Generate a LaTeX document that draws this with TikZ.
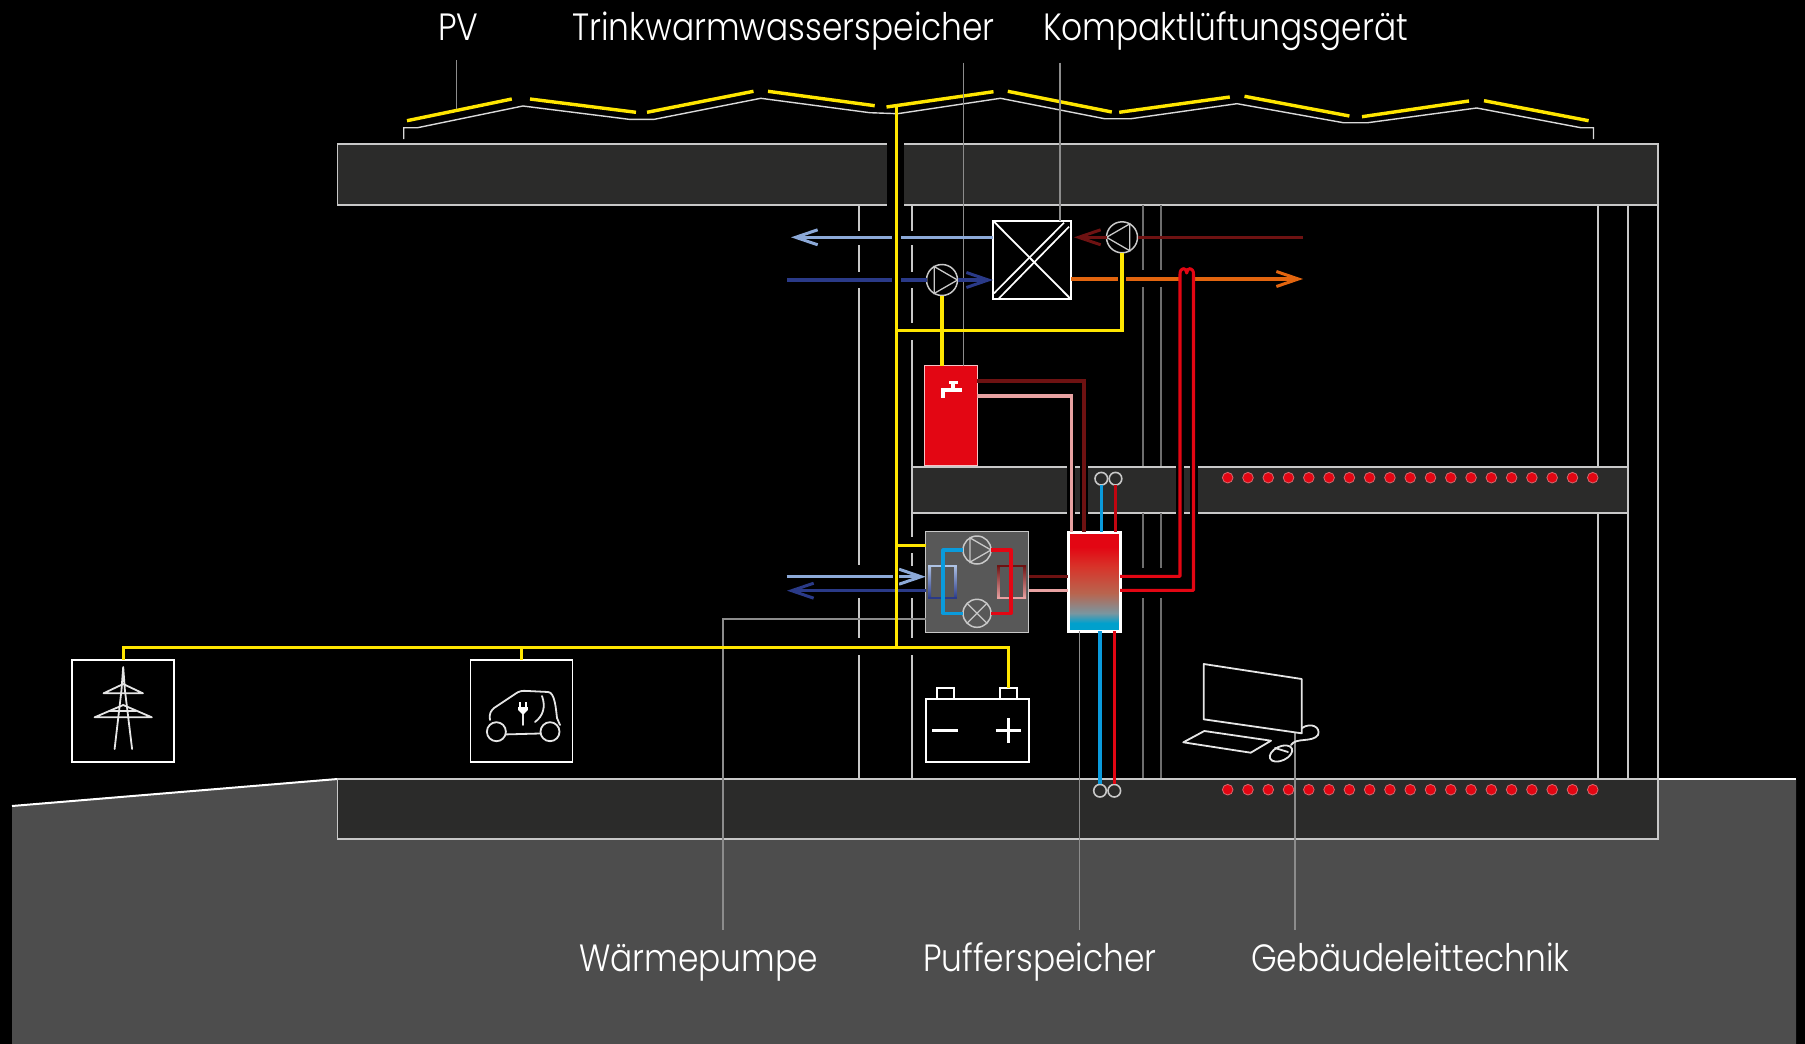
\documentclass[tikz,border=0pt]{standalone}
\usepackage{fontspec}
\setmainfont{Poppins}[UprightFont=* Light,FakeStretch=0.865]
\usetikzlibrary{arrows.meta}

\definecolor{linegray}{HTML}{C8C8C8}
\definecolor{thingray}{HTML}{8C8C8C}
\definecolor{dimgray}{HTML}{6E6E6E}
\definecolor{slabdark}{HTML}{2B2B2A}
\definecolor{groundgray}{HTML}{4D4D4D}
\definecolor{boxgray}{HTML}{585858}
\definecolor{solaryellow}{HTML}{FFE600}
\definecolor{hotred}{HTML}{E30613}
\definecolor{darkred}{HTML}{6E1212}
\definecolor{rosepipe}{HTML}{E8A2A2}
\definecolor{coolblue}{HTML}{0A9BDC}
\definecolor{airlight}{HTML}{8CA9D8}
\definecolor{airdark}{HTML}{2A3A88}
\definecolor{airorange}{HTML}{E2650F}
\definecolor{bufferlow}{HTML}{00A0CC}
\definecolor{buffergray}{HTML}{7A96A0}
\definecolor{buffermud}{HTML}{B8654F}
\definecolor{bufferwarm}{HTML}{D8342A}

\pgfdeclareverticalshading{bufferfill}{100bp}{color(0bp)=(bufferlow); color(29bp)=(bufferlow);
  color(34bp)=(buffergray); color(44bp)=(buffermud);
  color(57.5bp)=(bufferwarm); color(67.5bp)=(hotred); color(100bp)=(hotred)}

\begin{document}
\begin{tikzpicture}[x=1pt,y=-1pt,
  labeltext/.style={anchor=base west,inner sep=0pt,text=white,font=\fontsize{38}{46}\selectfont},
  wall/.style={linegray,line width=1.7pt},
  dimwall/.style={dimgray,line width=1.7pt},
  leader/.style={thingray,line width=1.2pt},
  slab/.style={fill=slabdark,draw=linegray,line width=1.7pt},
  box/.style={draw=white,line width=1.8pt,inner sep=0pt,outer sep=0pt,rectangle},
  iconline/.style={white!90!black,line width=1.8pt,line join=round,line cap=round},
  pumpring/.style={circle,draw=linegray,fill=black,line width=1.5pt,inner sep=0pt,outer sep=0pt,minimum size=31pt},
  hpring/.style={pumpring,fill=boxgray,minimum size=28pt},
  pipering/.style={circle,draw=linegray,line width=1.6pt,inner sep=0pt,outer sep=0pt,minimum size=12.6pt},
  reddot/.style={circle,fill=hotred,draw=hotred!50!linegray,line width=.8pt,inner sep=0pt,minimum size=10.6pt},
  panel/.style={solaryellow,line width=3.4pt},
  power/.style={solaryellow,line width=3.1pt},
  pipe/.style={line width=3.05pt},
  airtip/.style={-{Straight Barb[length=22pt,width=15pt,line width=3pt]}}]

\useasboundingbox (0,0) rectangle (1805,1044);
\fill[black] (0,0) rectangle (1805,1044);

\fill[groundgray] (12,806) -- (337.5,779) -- (1796,779) -- (1796,1044) -- (12,1044) -- cycle;
\draw[white,line width=2pt] (12,806) -- (337.5,779);
\draw[white,line width=2pt] (1658,779) -- (1796,779);
\draw[slab] (337.5,144) rectangle (1658,205);
\draw[slab] (337.5,779) rectangle (1658,838.7);
\draw[slab] (912.3,466.7) rectangle (1628,512.7);
\fill[black] (887.3,143) rectangle (903.7,206);
\foreach \x in {1071.3,1084,1180,1193.5}
  \fill[black] (\x-4,465) rectangle (\x+4,514);

\draw[white!85!black,line width=1.4pt] (403.7,139) -- (403.7,127.7) -- (417.6,127.7) -- (522.9,106) -- (629,119.3) -- (654.3,119.3) -- (760.8,98.3) -- (869.8,112.7) -- (897.6,113.7) -- (1000.4,98.3) -- (1104.5,118.7) -- (1131,118.7) -- (1237,103.7) -- (1343.3,122.7) -- (1367.8,122.7) -- (1476.7,108) -- (1580.8,127.7) -- (1593.5,127.7) -- (1593.5,139);
\draw[panel] (407,120.7) -- (511.8,99);
\draw[panel] (530,99) -- (636,112.3);
\draw[panel] (647,112.3) -- (753.5,91.3);
\draw[panel] (768,91.3) -- (874.7,105.7);
\draw[panel] (886.5,107) -- (993.5,91.7);
\draw[panel] (1007.8,91.3) -- (1111.8,112);
\draw[panel] (1119.2,112.3) -- (1229.8,97);
\draw[panel] (1244.5,96.3) -- (1349.4,116);
\draw[panel] (1362,116.7) -- (1469,101);
\draw[panel] (1484,100.7) -- (1588.6,120.7);

\foreach \a/\b in {205/231,245/272,288/565,598/638,655/778}
  \draw[wall] (858.7,\a) -- (858.7,\b);
\foreach \a/\b in {205/231,245/272,288/323,340/466,513/537,553/566,598/638,655/778}
  \draw[wall] (912.3,\a) -- (912.3,\b);
\foreach \a/\b in {205/270,287/466,513/568,598/778} {
  \draw[dimwall] (1143.3,\a) -- (1143.3,\b);
  \draw[dimwall] (1161,\a) -- (1161,\b);
}
\foreach \x in {1597.7,1628}
  \draw[wall] (\x,205) -- (\x,466) (\x,513) -- (\x,778);
\draw[wall] (1658,205) -- (1658,779);

\node[labeltext] (pvlabel) at (438,40) {PV};
\node[labeltext] (dhwlabel) at (572,40) {Trinkwarmwasserspeicher};
\node[labeltext] (ventlabel) at (1043,40) {Kompaktlüftungsgerät};
\node[labeltext] (hplabel) at (579,971) {Wärmepumpe};
\node[labeltext] (bufferlabel) at (923,971) {Pufferspeicher};
\node[labeltext] (controllabel) at (1251,971) {Gebäudeleittechnik};

\node[box,fill=hotred,draw=hotred!25!white,line width=1.5pt,minimum width=52.6pt,minimum height=100pt] (tank) at (951,415.5) {};
\node[box,fill=boxgray,draw=linegray,line width=1.5pt,minimum width=103pt,minimum height=100.6pt] (heatpump) at (977.2,582) {};
\node[box,shading=bufferfill,line width=3pt,minimum width=52pt,minimum height=99pt] (buffer) at (1094,581.5) {};
\node[box,fill=black,line width=2.2pt,minimum width=78pt,minimum height=78.6pt] (vent) at (1032,260) {};
\node[box,line width=1.8pt,minimum width=102pt,minimum height=102pt] (grid) at (123.1,710.8) {};
\node[box,line width=1.8pt,minimum width=102pt,minimum height=102pt] (car) at (521.5,710.8) {};
\node[box,line width=1.8pt,minimum width=103pt,minimum height=62.4pt] (battery) at (977.2,730.5) {};
\node[box,line width=1.8pt,minimum width=17.3pt,minimum height=11pt] (batminus) at (945.3,693.7) {};
\node[box,line width=1.8pt,minimum width=17.3pt,minimum height=11pt] (batplus) at (1008.7,693.7) {};

\coordinate (exhaustend) at (791,237.3);
\coordinate (intakestart) at (787,280);
\coordinate (returnstart) at (1303,237.3);
\coordinate (supplyend) at (1303,279);
\coordinate (sourcestart) at (786.7,576.7);
\coordinate (sourceend) at (787,590.7);
\coordinate (pvfeed) at (896.3,107);
\coordinate (bus) at (896.3,647.3);
\coordinate (ventjoint) at (896.3,330.7);
\coordinate (hpjoint) at (896.3,545.3);

\draw[leader] (456.3,60) -- (456.3,109);
\draw[leader] (963.6,62.7) -- (tank.north -| 963.6,0);
\draw[leader] (1060,62.7) -- (vent.north -| 1060,0);
\draw[leader] (heatpump.west |- 0,619) -- (723,619) -- (723,930);
\draw[leader] (buffer.south -| 1079.3,0) -- (1079.3,930);
\draw[leader] (1295,733) -- (1295,930);

\node[pumpring] (pumpin) at (942,280) {};
\node[pumpring] (pumpout) at (1122,237.3) {};
\draw[linegray,line width=1.3pt] (pumpin.0) -- (pumpin.120) -- (pumpin.240) -- cycle;
\draw[linegray,line width=1.3pt] (pumpout.180) -- (pumpout.60) -- (pumpout.-60) -- cycle;

\draw[white,line width=1.8pt] (vent.north west) -- (vent.south east);
\draw[white,line width=1.7pt] ([shift={(1,-6)}]vent.south west) -- ([shift={(-7,2)}]vent.north east);
\draw[white,line width=1.7pt] ([shift={(6,-1)}]vent.south west) -- ([shift={(-2,6)}]vent.north east);

\draw[airlight,pipe,airtip] (vent.west |- exhaustend) -- (exhaustend);
\draw[airdark,line width=4.5pt] (intakestart) -- (pumpin.west);
\draw[airdark,pipe,airtip] (pumpin.east) -- (vent.west |- pumpin.east);
\draw[darkred,pipe] (returnstart) -- (pumpout.east);
\draw[darkred,pipe,airtip,shorten >=3pt] (pumpout.west) -- (vent.east |- pumpout.west);
\draw[airorange,pipe] (vent.east |- supplyend) -- (1117.7,279);
\draw[airorange,pipe] (1126.3,279) -- (1179,279);
\draw[airorange,pipe,airtip] (1195,279) -- (supplyend);
\draw[airlight,pipe,airtip] (sourcestart) -- (heatpump.west |- sourcestart);
\draw[airdark,pipe,airtip] (heatpump.west |- sourceend) -- (sourceend);

\draw[black,line width=9pt] (896.3,230) -- (896.3,246) (896.3,271) -- (896.3,289);
\draw[black,line width=6pt] (896.3,570) -- (896.3,584);
\draw[power] (pvfeed) -- (bus);
\draw[power] (grid.north) |- (bus) -| (batplus.north);
\draw[power] (car.north) -- (car.north |- bus);
\draw[power] (ventjoint) -| (pumpout.south);
\draw[power] (pumpin.south) -- (pumpin.south |- tank.north);
\draw[power] (hpjoint) -- (heatpump.west |- hpjoint);

\draw[darkred,pipe] (tank.east |- 0,381) -- (1084,381) -- (buffer.north -| 1084,0);
\draw[rosepipe,pipe] (tank.east |- 0,396) -- (1071.3,396) -- (buffer.north -| 1071.3,0);
\draw[darkred,pipe] (heatpump.east |- 0,576.7) -- (buffer.west |- 0,576.7);
\draw[rosepipe,pipe] (heatpump.east |- 0,590.3) -- (buffer.west |- 0,590.3);
\draw[hotred,pipe,line join=round] (buffer.east |- 0,576.3) -- (1180,576.3) -- (1180,274) .. controls (1180,267) and (1186.7,267) .. (1186.7,273) .. controls (1186.7,267) and (1193.5,267) .. (1193.5,274) -- (1193.5,590.3) -- (buffer.east |- 0,590.3);

\node[pipering] (ringflow) at (1101.3,478.7) {};
\node[pipering] (ringback) at (1115.5,478.7) {};
\node[pipering] (ringlow) at (1100,790.7) {};
\node[pipering] (ringhigh) at (1114.3,790.7) {};
\draw[coolblue,pipe] (ringflow.south) -- (ringflow.south |- buffer.north);
\draw[hotred!85!black,pipe] (ringback.south) -- (ringback.south |- buffer.north);
\draw[coolblue,pipe] (buffer.south -| ringlow.north) -- (ringlow.north);
\draw[hotred,pipe] (buffer.south -| ringhigh.north) -- (ringhigh.north);

\shade[top color=airlight!70!white,bottom color=airdark] (928.3,565) rectangle (931,598.6);
\shade[top color=airlight!70!white,bottom color=airdark] (954.1,565) rectangle (956.8,598.6);
\fill[airlight!70!white] (928.3,564.5) rectangle (956.8,567);
\fill[airdark] (928.3,597) rectangle (956.8,599.3);
\shade[top color=darkred,bottom color=rosepipe] (997,565) rectangle (999.7,598.6);
\shade[top color=darkred,bottom color=rosepipe] (1023.3,565) rectangle (1026,598.6);
\fill[darkred] (997,564.5) rectangle (1026,567);
\fill[rosepipe] (997,597) rectangle (1026,599.3);

\node[hpring] (hppump) at (977,550) {};
\node[hpring] (hpvalve) at (977,613.3) {};
\draw[linegray,line width=1.3pt] (hppump.0) -- (hppump.120) -- (hppump.240) -- cycle;
\draw[linegray,line width=1.3pt] (hpvalve.45) -- (hpvalve.225) (hpvalve.135) -- (hpvalve.315);
\draw[coolblue,pipe,line join=round] (hppump.west) -- ++(-20,0) |- (hpvalve.west);
\draw[hotred,pipe,line join=round] (hppump.east) -- ++(20,0) |- (hpvalve.east);

\foreach \n in {0,...,18} {
  \node[reddot] (middot\n) at ({1227.7+20.28*\n},477.7) {};
  \node[reddot] (lowdot\n) at ({1227.7+20.28*\n},789.7) {};
}

\draw[white,line width=3.5pt] (949,382.3) -- (957.5,382.3) (953.2,382.3) -- (953.2,390) (961.8,390) -- (941.2,390) (942.9,390) -- (942.9,398.3);

\draw[white,line width=3pt] (932.3,730.7) -- (958.3,730.7);
\draw[white,line width=3pt] (995.6,730.7) -- (1021,730.7) (1008.3,718) -- (1008.3,743.3);

\draw[iconline] (114.6,749) -- (121.5,690) -- (123.2,667) -- (124.9,690) -- (132.1,749);
\draw[iconline] (103.6,693.3) -- (142.9,693.3) -- (123.2,684) -- cycle;
\draw[iconline] (94.6,717.3) -- (151.8,717.3) -- (123.2,705) -- cycle;
\draw[iconline] (110,711) -- (136,711);

\node[circle,draw=white!90!black,line width=1.8pt,inner sep=0pt,minimum size=19pt] (wheelfront) at (496.4,731.7) {};
\node[circle,draw=white!90!black,line width=1.8pt,inner sep=0pt,minimum size=19pt] (wheelrear) at (550,731.7) {};
\draw[iconline] (wheelfront.-15) -- (wheelrear.190);
\draw[iconline] (490,720) .. controls (489,713) and (491,711) .. (494,708) -- (515,694) .. controls (519,691) and (522,690.5) .. (528,691) -- (548,692) .. controls (555,692) and (556,710) .. (557,718) -- (560,725);
\draw[iconline] (542,696) .. controls (546,707) and (543,716) .. (535,722);
\draw[iconline] (523,712) -- (523,725);
\fill[white] (518.2,707) -- (527.8,707) -- (527.8,710) -- (524,714) -- (522,714) -- (518.2,710) -- cycle;
\draw[white,line width=1.6pt] (519.8,702) -- (519.8,707) (526.2,702) -- (526.2,707);

\draw[iconline] (1203.7,664) -- (1301.7,679) -- (1301.7,733.3) -- (1203.7,719.3) -- cycle;
\draw[iconline] (1183.3,742.3) -- (1204.3,731) -- (1271,740.7) -- (1250.7,752.7) -- cycle;
\draw[iconline,rotate around={25:(1281,753.5)}] (1281,753.5) ellipse (12pt and 7pt);
\draw[iconline] (1275,748) -- (1288,752);
\draw[iconline] (1291,745) .. controls (1296,737) and (1312,743) .. (1318,735) .. controls (1321,727) and (1311,722) .. (1302,728);
\end{tikzpicture}
\end{document}
